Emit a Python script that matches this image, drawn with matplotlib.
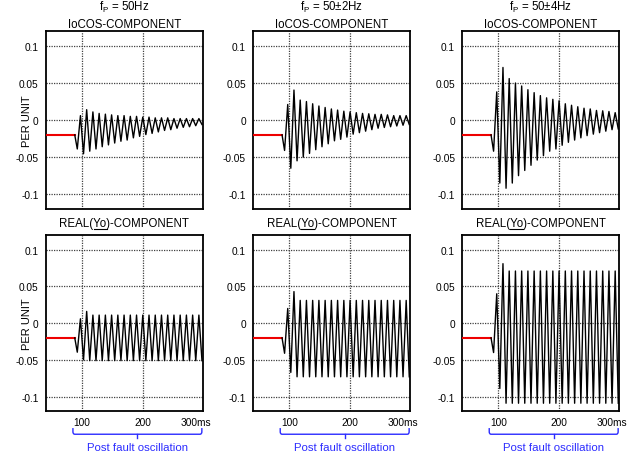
import matplotlib
matplotlib.use('Agg')
import matplotlib.pyplot as plt
import matplotlib.transforms as mtransforms
from matplotlib.path import Path
from matplotlib.patches import PathPatch

plt.rcParams['font.family'] = ['Liberation Sans', 'DejaVu Sans']
plt.rcParams['mathtext.fontset'] = 'custom'
plt.rcParams['mathtext.rm'] = 'Liberation Sans'
plt.rcParams['mathtext.it'] = 'Liberation Sans:italic'

# ---- data ----
pre_fault_level = -0.02
x_start = 40
fault_time = 88
# times (ms) of the dip and the following peaks / troughs, same for every panel
turn_times = [92.2, 97.4, 102.5, 107.7, 112.8, 118.0, 123.1, 128.3, 133.4, 138.6,
              143.7, 148.9, 154.0, 159.2, 164.3, 169.5, 174.6, 179.8, 184.9, 190.1,
              195.2, 200.4, 205.5, 210.7, 215.8, 221.0, 226.1, 231.3, 236.4, 241.6,
              246.7, 251.9, 257.0, 262.2, 267.3, 272.5, 277.6, 282.8, 287.9, 293.1,
              298.2]

freq_labels = ['50Hz', '50\u00b12Hz', '50\u00b14Hz']

# IoCOS component
cos_dip = [-0.039, -0.041, -0.042]
cos_peaks = [
    [0.006, 0.014, 0.011, 0.009, 0.008, 0.007, 0.006, 0.006, 0.005, 0.005,
     0.004, 0.004, 0.003, 0.003, 0.003, 0.002, 0.002, 0.002, 0.002, 0.002],
    [0.021, 0.0405, 0.027, 0.025, 0.022, 0.019, 0.017, 0.015, 0.0135, 0.012,
     0.011, 0.010, 0.009, 0.0085, 0.0077, 0.0077, 0.007, 0.006, 0.006, 0.006],
    [0.038, 0.071, 0.056, 0.050, 0.046, 0.041, 0.037, 0.033, 0.030, 0.028,
     0.026, 0.022, 0.020, 0.018, 0.016, 0.015, 0.013, 0.0125, 0.0116, 0.010],
]
cos_troughs = [
    [-0.0455, -0.042, -0.039, -0.036, -0.0335, -0.031, -0.0286, -0.027, -0.024, -0.022,
     -0.0196, -0.018, -0.016, -0.014, -0.013, -0.011, -0.0098, -0.009, -0.0076, -0.006],
    [-0.065, -0.055, -0.050, -0.045, -0.040, -0.036, -0.032, -0.028, -0.026, -0.023,
     -0.019, -0.017, -0.015, -0.013, -0.011, -0.010, -0.009, -0.008, -0.007, -0.006],
    [-0.085, -0.092, -0.085, -0.075, -0.068, -0.061, -0.054, -0.048, -0.042, -0.039,
     -0.034, -0.030, -0.027, -0.024, -0.021, -0.019, -0.017, -0.015, -0.013, -0.012],
]

# REAL(Yo) component
real_dip = [-0.0395, -0.041, -0.040]
real_peaks = [
    [0.006, 0.016] + [0.011] * 18,
    [0.020, 0.043] + [0.031] * 18,
    [0.040, 0.081] + [0.071] * 18,
]
real_troughs = [
    [-0.050] + [-0.051] * 19,
    [-0.067] + [-0.073] * 19,
    [-0.089] + [-0.109] * 19,
]

y_ticks = [-0.1, -0.05, 0, 0.05, 0.1]
y_tick_labels = ['-0.1', '-0.05', '0', '0.05', '0.1']
x_ticks = [100, 200, 300]
x_tick_labels = ['100', '200', '']
last_x_label = '300ms'
brace_span = (85, 298)

blue = '#2b2bff'

fig = plt.figure(figsize=(6.32, 4.56), dpi=100)

lefts = [0.0723, 0.4003, 0.731]
w = 0.249
rows = [(0.5395, 0.390), (0.0958, 0.3866)]


def wave(dip, peaks, troughs):
    ys = [pre_fault_level, dip]
    for p, t in zip(peaks, troughs):
        ys += [p, t]
    xs = [fault_time] + turn_times[:len(ys) - 1]
    return xs, ys


for r, (bottom, h) in enumerate(rows):
    for c in range(3):
        ax = fig.add_axes([lefts[c], bottom, w, h])
        if r == 0:
            xs, ys = wave(cos_dip[c], cos_peaks[c], cos_troughs[c])
        else:
            xs, ys = wave(real_dip[c], real_peaks[c], real_troughs[c])
        ax.plot([x_start, fault_time], [pre_fault_level, pre_fault_level],
                color='#ee0000', lw=1.5, zorder=3)
        ax.plot(xs, ys, color='black', lw=1.0, zorder=3)
        ax.set_xlim(40, 300)
        ax.set_ylim(-0.12, 0.12)
        ax.set_yticks(y_ticks)
        ax.set_yticklabels(y_tick_labels)
        ax.set_xticks(x_ticks)
        if r == 1:
            ax.set_xticklabels(x_tick_labels)
            # "300ms" sits a little left of the axis edge
            tr = ax.get_xaxis_transform() + mtransforms.ScaledTranslation(
                -7 / 100, -5.5 / 100, fig.dpi_scale_trans)
            ax.text(300, 0, last_x_label, fontsize=7.3, ha='center', va='top',
                    transform=tr)
        else:
            ax.set_xticklabels([])
        ax.tick_params(length=0, labelsize=7.3, pad=5)
        ax.tick_params(axis='x', pad=4)
        ax.grid(True, color='0.25', linestyle=(0, (1, 1)), linewidth=0.9)
        for s in ax.spines.values():
            s.set_linewidth(1.3)
        if c == 0:
            ax.set_ylabel('PER UNIT', fontsize=8)
            ax.yaxis.set_label_coords(-0.09, 0.5)

        if r == 1:
            trans = mtransforms.blended_transform_factory(ax.transData, ax.transAxes)
            L, R = brace_span
            M = (L + R) / 2
            y0, y1, y2 = -0.095, -0.13, -0.152
            verts = [(L, y0), (L, y1 + 0.014), (L, y1), (L + 3, y1),
                     (R - 3, y1), (R, y1), (R, y1 + 0.014), (R, y0)]
            codes = [Path.MOVETO, Path.LINETO, Path.CURVE3, Path.CURVE3,
                     Path.LINETO, Path.CURVE3, Path.CURVE3, Path.LINETO]
            ax.add_patch(PathPatch(Path(verts, codes), fill=False, edgecolor=blue,
                                   lw=1.0, transform=trans, clip_on=False))
            ax.plot([M, M], [y1, y2], color=blue, lw=1.0, transform=trans, clip_on=False)
            ax.text(M, -0.2, 'Post fault oscillation', color=blue, fontsize=8.2,
                    ha='center', va='center', transform=trans)

# titles
title_size = 8.3
under_texts = []
for c in range(3):
    cx = lefts[c] + w / 2
    fig.text(cx, 1 - 10.5 / 456, r'f$_{\mathrm{P}}$ = ' + freq_labels[c], ha='center',
             va='baseline', fontsize=title_size)
    fig.text(cx, 1 - 28 / 456, 'IoCOS-COMPONENT', ha='center', va='baseline',
             fontsize=title_size)
    t = fig.text(cx, 0.5029, 'REAL(Yo)-COMPONENT', ha='center', va='baseline',
                 fontsize=title_size)
    under_texts.append(t)

# underline "Yo" in the REAL titles
fig.canvas.draw()
rend = fig.canvas.get_renderer()
for t in under_texts:
    bb = t.get_window_extent(rend)
    tmp = fig.text(0, 0, 'REAL(', fontsize=title_size)
    w0 = tmp.get_window_extent(rend).width
    tmp.set_text('REAL(Yo')
    w1 = tmp.get_window_extent(rend).width
    tmp.remove()
    x0 = (bb.x0 + w0 + 0.5) / fig.bbox.width
    x1 = (bb.x0 + w1) / fig.bbox.width
    yl = 1 - 229.5 / 456
    fig.add_artist(plt.Line2D([x0, x1], [yl, yl], color='black', lw=0.8,
                              transform=fig.transFigure))

fig.savefig('out.png', dpi=100)
